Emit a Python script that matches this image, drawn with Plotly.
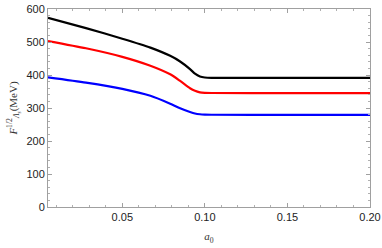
import plotly.graph_objects as go

a0 = [0.005, 0.028, 0.05, 0.067, 0.079, 0.085, 0.091, 0.094, 0.097, 0.1, 0.104, 0.15, 0.2]
black = [573, 542, 510, 483, 458, 441, 418, 404, 395.5, 392.5, 391.5, 391, 391]
red = [503, 481, 455, 428, 402, 382, 360, 352, 347.5, 346, 345.5, 345, 345]
blue = [393, 377, 358, 337, 313, 299, 288, 283.5, 281, 280, 279.5, 279, 279]
series = [(black, "#000000"), (red, "#ff0000"), (blue, "#0000ff")]

fig = go.Figure()
for ys, col in series:
    fig.add_trace(go.Scatter(x=a0, y=ys, mode="lines",
                             line=dict(color=col, width=2.2, shape="spline", smoothing=0.6),
                             showlegend=False))

axis_common = dict(showline=True, linecolor="#a0a0a0", linewidth=1, mirror="ticks",
                   ticks="inside", tickcolor="#a0a0a0", ticklen=4, showgrid=False,
                   zeroline=False, automargin=False,
                   tickfont=dict(family="Liberation Sans", size=11, color="#222"))

fig.update_xaxes(range=[0.005, 0.2], tickvals=[0.05, 0.1, 0.15, 0.2], tickformat=".2f",
                 minor=dict(ticks="inside", ticklen=2, tickcolor="#b0b0b0", dtick=0.01, tick0=0),
                 title=dict(text="<i>a</i><sub>0</sub>", font=dict(family="Liberation Serif", size=11, color="#333"), standoff=10),
                 **axis_common)
fig.update_yaxes(range=[0, 600], tickvals=[0, 100, 200, 300, 400, 500, 600],
                 minor=dict(ticks="inside", ticklen=2, tickcolor="#b0b0b0", dtick=20, tick0=0),
                 title=dict(text="<i>F</i><sup>1/2</sup><sub><i>Λ<sub>s</sub></i></sub>(MeV)",
                            font=dict(family="Liberation Serif", size=11, color="#333"), standoff=6),
                 **axis_common)

fig.update_layout(width=382, height=248, margin=dict(l=48, r=12, t=9, b=41),
                  plot_bgcolor="white", paper_bgcolor="white")
fig.write_html("out.html", post_script="document.body.style.margin='0';",
               config={"displayModeBar": False})
